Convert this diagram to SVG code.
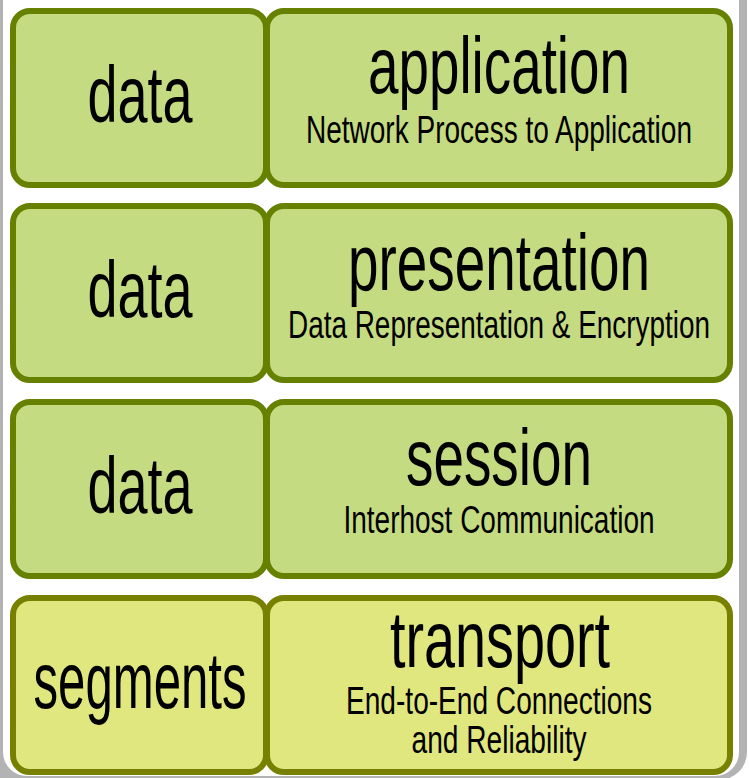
<svg xmlns="http://www.w3.org/2000/svg" width="749" height="778" viewBox="0 0 749 778">
<style>
.g rect{fill:#c5db82;stroke:#668000;stroke-width:6}
.y rect{fill:#e0e77e;stroke:#788000;stroke-width:6}
text{font-family:"Liberation Sans Narrow","Liberation Sans",Arial,sans-serif;fill:#000;text-anchor:middle}
.big{font-size:80px}
.sub{font-size:38px}
</style>
<rect x="0" y="0" width="749" height="778" fill="#fff"/>
<g id="frame">
<rect x="-30" y="-40" width="777" height="820" rx="28" fill="#b3b3b3"/>
<rect x="3" y="-40" width="736" height="816" rx="24" fill="#fff"/>
</g>
<g id="row1" class="g">
<g id="n-data1"><rect x="13" y="11" width="253" height="174" rx="17"/><text class="big" x="140" y="122" textLength="105" lengthAdjust="spacingAndGlyphs">data</text></g>
<g id="n-application"><rect x="267" y="11" width="463" height="174" rx="17"/><text class="big" x="499" y="93" textLength="262" lengthAdjust="spacingAndGlyphs">application</text><text class="sub" x="499" y="143" textLength="386" lengthAdjust="spacingAndGlyphs">Network Process to Application</text></g>
</g>
<g id="row2" class="g">
<g id="n-data2"><rect x="13" y="206" width="253" height="174" rx="17"/><text class="big" x="140" y="317" textLength="105" lengthAdjust="spacingAndGlyphs">data</text></g>
<g id="n-presentation"><rect x="267" y="206" width="463" height="174" rx="17"/><text class="big" x="499" y="290" textLength="302" lengthAdjust="spacingAndGlyphs">presentation</text><text class="sub" x="499" y="338" textLength="422" lengthAdjust="spacingAndGlyphs">Data Representation &amp; Encryption</text></g>
</g>
<g id="row3" class="g">
<g id="n-data3"><rect x="13" y="402" width="253" height="174" rx="17"/><text class="big" x="140" y="513" textLength="105" lengthAdjust="spacingAndGlyphs">data</text></g>
<g id="n-session"><rect x="267" y="402" width="463" height="174" rx="17"/><text class="big" x="499" y="485" textLength="186" lengthAdjust="spacingAndGlyphs">session</text><text class="sub" x="499" y="533" textLength="311" lengthAdjust="spacingAndGlyphs">Interhost Communication</text></g>
</g>
<g id="row4" class="y">
<g id="n-segments"><rect x="13" y="598" width="253" height="174" rx="17"/><text class="big" x="140" y="708" textLength="213" lengthAdjust="spacingAndGlyphs">segments</text></g>
<g id="n-transport"><rect x="267" y="598" width="463" height="174" rx="17"/><text class="big" x="500" y="667" textLength="220" lengthAdjust="spacingAndGlyphs">transport</text><text class="sub" x="499" y="714" textLength="306" lengthAdjust="spacingAndGlyphs">End-to-End Connections</text><text class="sub" x="499" y="753" textLength="175" lengthAdjust="spacingAndGlyphs">and Reliability</text></g>
</g>
</svg>
